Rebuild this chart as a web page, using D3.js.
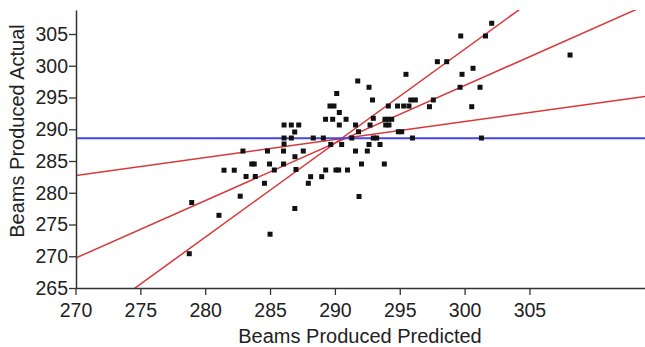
<!DOCTYPE html>
<html><head><meta charset="utf-8">
<script src="https://cdn.jsdelivr.net/npm/d3@7"></script>
<style>body{margin:0;background:#fff}svg{display:block}text{font-family:"Liberation Sans",Arial,sans-serif;fill:#222}</style>
</head><body><svg id="c" width="645" height="347"></svg>
<script>
const predicted = [278.77,278.96,281.06,282.70,281.45,282.24,283.59,283.78,283.15,283.86,284.57,284.96,285.33,282.91,284.80,286.04,285.00,286.91,286.08,286.64,287.21,286.08,286.64,286.08,287.56,286.92,286.90,286.04,287.00,289.29,290.08,290.29,290.97,288.13,288.98,287.95,288.33,289.11,289.68,290.52,290.14,289.62,289.93,290.34,289.28,289.83,290.86,290.34,291.76,292.63,292.90,291.59,291.82,292.71,292.96,293.86,294.12,294.38,293.92,294.17,294.89,295.15,291.30,292.96,293.22,295.98,292.63,293.48,291.59,292.50,292.05,293.81,291.86,295.48,294.12,294.83,295.30,295.71,295.85,296.20,297.59,297.29,300.55,299.65,301.19,299.80,300.65,297.90,298.62,299.70,301.61,302.09,301.30,308.13];
const actual = [270.40,278.46,276.45,279.46,283.55,283.55,284.53,284.53,282.56,282.56,281.49,284.53,283.58,286.57,286.57,286.57,273.47,277.52,290.67,290.67,290.67,288.62,288.62,287.68,286.57,285.68,289.57,284.53,283.66,283.58,283.58,283.58,283.58,282.53,282.53,281.49,288.62,288.62,287.60,287.60,295.63,293.66,293.66,292.64,291.57,291.57,291.57,290.67,297.60,296.61,294.61,290.67,289.61,290.67,291.72,291.57,291.57,291.57,290.67,290.67,289.61,289.61,288.62,288.62,288.62,288.62,287.60,287.60,286.57,286.57,284.53,284.53,279.41,298.65,293.66,293.66,293.66,293.66,294.61,294.61,294.61,293.55,293.55,296.61,296.61,298.65,299.60,300.64,300.64,304.69,304.69,306.69,288.62,301.69];
const xTicks = [270,275,280,285,290,295,300,305];
const yTicks = [265,270,275,280,285,290,295,300,305];
const meanActual = [288.6];
// red fitted lines: intercept at x=270, slope
const fitIntercepts = [282.7, 269.7, 258.2];
const fitSlopes = [0.284, 0.906, 1.48];

const svg = d3.select("#c");
const L=76, R=645, T=10, B=288;
const x = d3.scaleLinear().domain([270, 270+(R-75.5)/12.97]).range([75.5, R]);
const y = d3.scaleLinear().domain([265, 265+(B-T)/6.35]).range([B, T]);

svg.append("defs").append("clipPath").attr("id","clip").append("rect")
  .attr("x",L).attr("y",T).attr("width",R-L).attr("height",B-T);

const g = svg.append("g").attr("clip-path","url(#clip)");
const [x0,x1] = x.domain();
g.selectAll("line.fit").data(fitIntercepts).join("line").attr("class","fit")
  .attr("x1",x(x0)).attr("x2",x(x1))
  .attr("y1",(d,i)=>y(d+fitSlopes[i]*(x0-270)))
  .attr("y2",(d,i)=>y(d+fitSlopes[i]*(x1-270)))
  .attr("stroke","#d8383a").attr("stroke-width",1.5);
g.selectAll("line.mean").data(meanActual).join("line").attr("class","mean")
  .attr("x1",x(x0)).attr("x2",x(x1)).attr("y1",d=>y(d)).attr("y2",d=>y(d))
  .attr("stroke","#4646e0").attr("stroke-width",2);
g.selectAll("rect.pt").data(predicted).join("rect").attr("class","pt")
  .attr("x",d=>x(d)-2.5).attr("y",(d,i)=>y(actual[i])-2.5)
  .attr("width",5).attr("height",5).attr("fill","#111");

const xa = svg.append("g").attr("transform",`translate(0,${B})`)
  .call(d3.axisBottom(x).tickValues(xTicks).tickSize(7).tickSizeOuter(0).tickPadding(8));
const ya = svg.append("g").attr("transform",`translate(${L},0)`)
  .call(d3.axisLeft(y).tickValues(yTicks).tickSize(7).tickSizeOuter(0).tickPadding(1));
[xa,ya].forEach(a=>{
  a.select(".domain").attr("stroke","#333").attr("stroke-width",1.5);
  a.selectAll(".tick line").attr("stroke","#333").attr("stroke-width",1.3);
  a.selectAll(".tick text").attr("font-size",19.5).attr("fill","#222").attr("font-family",'"Liberation Sans",Arial,sans-serif');
});
svg.append("text").attr("x",360).attr("y",343).attr("text-anchor","middle").attr("font-size",20).text("Beams Produced Predicted");
svg.append("text").attr("transform","translate(24,131) rotate(-90)").attr("text-anchor","middle").attr("font-size",20).text("Beams Produced Actual");
</script></body></html>
